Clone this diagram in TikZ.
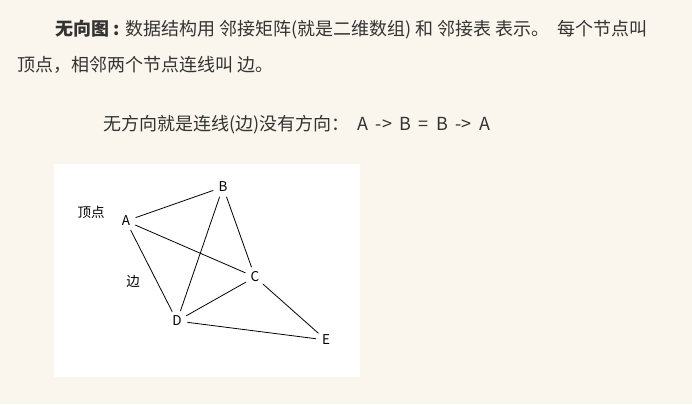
\documentclass[tikz,border=0pt]{standalone}
\usepackage{fontspec}
\setmainfont{Noto Sans CJK SC}
\usetikzlibrary{positioning}
\definecolor{paper}{HTML}{FAF6ED}
\definecolor{ink}{HTML}{333333}
\newcommand{\gap}{\hspace{7.5pt}}

\begin{document}
\begin{tikzpicture}[x = 1pt, y = -1pt,
    vertex/.style = {circle, inner sep = 2.5pt, font = \fontsize{13.5}{15}\selectfont},
    note/.style = {anchor = center, font = \fontsize{13.5}{15}\selectfont},
    para/.style = {anchor = west, inner sep = 0pt, text = ink, font = \fontsize{18}{22}\selectfont}]
  \fill[paper] (0,0) rectangle (692,404);
  \useasboundingbox (0,0) rectangle (692,404);
  \fill[white] (54,164) rectangle (360,377);
  % text above the graph
  \node[para] (line1) at (55,30) {\textbf{无向图 :} 数据结构用 邻接矩阵(就是二维数组) 和 邻接表 表示。\ \ 每个节点叫};
  \node[para] (line2) at (17,65) {顶点，相邻两个节点连线叫 边。};
  \node[para] (line3) at (103,125) {无方向就是连线(边)没有方向：\ \ A\gap->\gap B\gap=\gap B\gap->\gap A};
  % the graph
  \node[vertex] (A) at (126,221) {A};
  \node[vertex] (B) at (223,187) {B};
  \node[vertex] (C) at (255,277) {C};
  \node[vertex] (D) at (177,321) {D};
  \node[vertex] (E) at (326,340) {E};
  \node[note] (vertexnote) at (91,212) {顶点};
  \node[note] (edgenote) at (133,281) {边};
  \path[draw, line width = 0.8pt]
    (A) edge (B)
        edge (C)
        edge (D)
    (B) edge (C)
        edge (D)
    (C) edge (D)
        edge (E)
    (D) edge (E);
\end{tikzpicture}
\end{document}
